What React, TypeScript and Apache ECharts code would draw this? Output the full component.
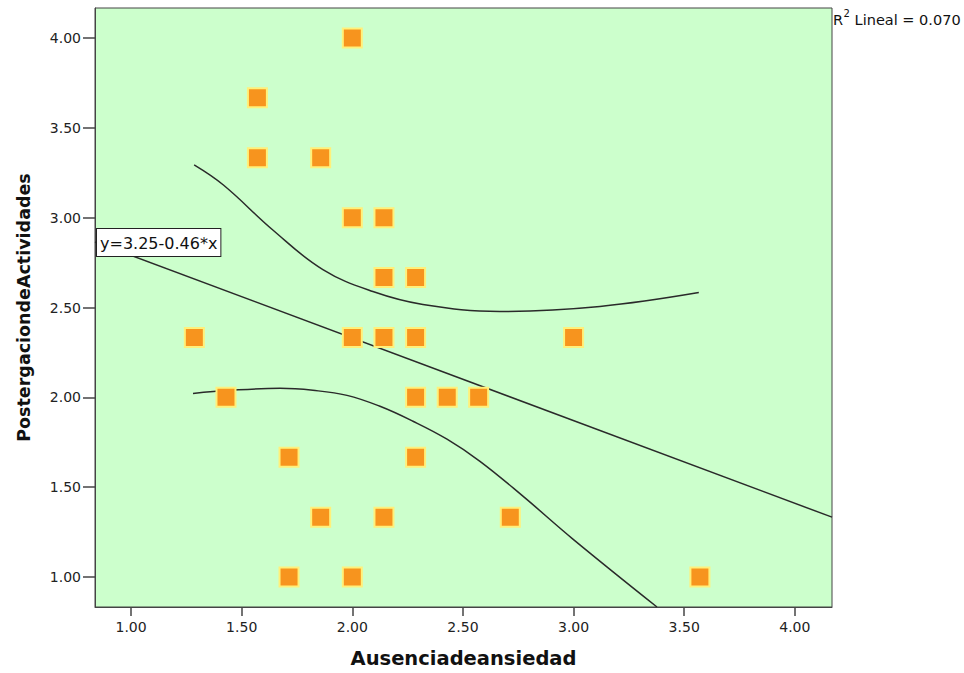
import React, { useEffect, useRef } from "react";
import * as echarts from "echarts";

const xTicks = [1.0, 1.5, 2.0, 2.5, 3.0, 3.5, 4.0];
const yTicks = [1.0, 1.5, 2.0, 2.5, 3.0, 3.5, 4.0];

const points: [number, number][] = [
  [2.0, 4.0],
  [1.571, 3.667],
  [1.571, 3.333],
  [1.857, 3.333],
  [2.0, 3.0],
  [2.143, 3.0],
  [2.143, 2.667],
  [2.286, 2.667],
  [1.286, 2.333],
  [2.0, 2.333],
  [2.143, 2.333],
  [2.286, 2.333],
  [3.0, 2.333],
  [1.429, 2.0],
  [2.286, 2.0],
  [2.429, 2.0],
  [2.571, 2.0],
  [1.714, 1.667],
  [2.286, 1.667],
  [1.857, 1.333],
  [2.143, 1.333],
  [2.714, 1.333],
  [1.714, 1.0],
  [2.0, 1.0],
  [3.571, 1.0],
];

const fitLine: [number, number][] = [
  [0.837, 2.865],
  [4.168, 1.333],
];

const upperBand: [number, number][] = [
  [1.285, 3.294],
  [1.416, 3.183],
  [1.642, 2.93],
  [1.867, 2.711],
  [2.093, 2.589],
  [2.319, 2.517],
  [2.667, 2.478],
  [3.119, 2.506],
  [3.566, 2.583],
];

const lowerBand: [number, number][] = [
  [1.28, 2.022],
  [1.447, 2.039],
  [1.673, 2.05],
  [1.822, 2.039],
  [1.976, 2.011],
  [2.125, 1.95],
  [2.274, 1.867],
  [2.428, 1.767],
  [2.577, 1.644],
  [2.771, 1.45],
  [2.997, 1.211],
  [3.377, 0.833],
];

const xRange = [0.837, 4.168];
const yRange = [0.833, 4.167];

const FONT = "'DejaVu Sans', sans-serif";

export default function App() {
  const ref = useRef<HTMLDivElement>(null);
  useEffect(() => {
    document.body.style.margin = "0";
    if (!ref.current) return;
    const chart = echarts.init(ref.current, undefined, { renderer: "svg" });
    const lineStyle = { color: "#2a2a2a", width: 1.5 };
    chart.setOption({
      animation: false,
      backgroundColor: "#ffffff",
      grid: {
        left: 95,
        top: 8,
        right: 132,
        bottom: 65,
        show: true,
        backgroundColor: "#ccffcc",
        borderColor: "#444444",
        borderWidth: 1,
      },
      xAxis: {
        type: "value",
        min: xRange[0],
        max: xRange[1],
        name: "Ausenciadeansiedad",
        nameLocation: "middle",
        nameGap: 41,
        nameTextStyle: { fontFamily: FONT, fontWeight: "bold", fontSize: 19.5, color: "#111" },
        axisLine: { show: true, onZero: false, lineStyle: { color: "#444", width: 1 } },
        axisTick: { show: true, length: 9, customValues: xTicks, lineStyle: { color: "#444", width: 1.5 } },
        axisLabel: {
          customValues: xTicks,
          formatter: (v: number) => v.toFixed(2),
          fontFamily: FONT,
          fontSize: 14,
          color: "#222",
          margin: 13,
        },
        splitLine: { show: false },
      },
      yAxis: {
        type: "value",
        min: yRange[0],
        max: yRange[1],
        name: "PostergaciondeActividades",
        nameLocation: "middle",
        nameGap: 62,
        nameTextStyle: { fontFamily: FONT, fontWeight: "bold", fontSize: 17.5, color: "#111" },
        axisLine: { show: true, onZero: false, lineStyle: { color: "#444", width: 1 } },
        axisTick: { show: true, length: 12, customValues: yTicks, lineStyle: { color: "#444", width: 1.5 } },
        axisLabel: {
          customValues: yTicks,
          formatter: (v: number) => v.toFixed(2),
          fontFamily: FONT,
          fontSize: 14,
          color: "#222",
          margin: 14,
        },
        splitLine: { show: false },
      },
      series: [
        {
          type: "line",
          data: fitLine,
          showSymbol: false,
          lineStyle,
          z: 2,
        },
        {
          type: "line",
          data: upperBand,
          smooth: 0.4,
          showSymbol: false,
          lineStyle,
          z: 2,
        },
        {
          type: "line",
          data: lowerBand,
          smooth: 0.4,
          showSymbol: false,
          lineStyle,
          z: 2,
        },
        {
          type: "scatter",
          data: points,
          symbol: "rect",
          symbolSize: 19,
          itemStyle: { color: "#f7941e", borderColor: "#fff07a", borderWidth: 2, opacity: 1 },
          z: 3,
        },
      ],
      graphic: [
        {
          type: "text",
          left: 96,
          top: 228,
          z: 10,
          style: {
            text: "y=3.25-0.46*x",
            fontFamily: FONT,
            fontSize: 16,
            fill: "#111",
            backgroundColor: "#ffffff",
            borderColor: "#222",
            borderWidth: 1,
            padding: [6, 3, 5, 3],
          },
        },
        {
          type: "text",
          x: 833,
          y: 12,
          style: { text: "R", fontFamily: FONT, fontSize: 14.5, fill: "#111" },
        },
        {
          type: "text",
          x: 843.5,
          y: 8,
          style: { text: "2", fontFamily: FONT, fontSize: 10, fill: "#111" },
        },
        {
          type: "text",
          x: 850,
          y: 12,
          style: { text: " Lineal = 0.070", fontFamily: FONT, fontSize: 14.5, fill: "#111" },
        },
      ],
    });
    return () => chart.dispose();
  }, []);
  return <div ref={ref} style={{ width: 964, height: 673 }} />;
}
